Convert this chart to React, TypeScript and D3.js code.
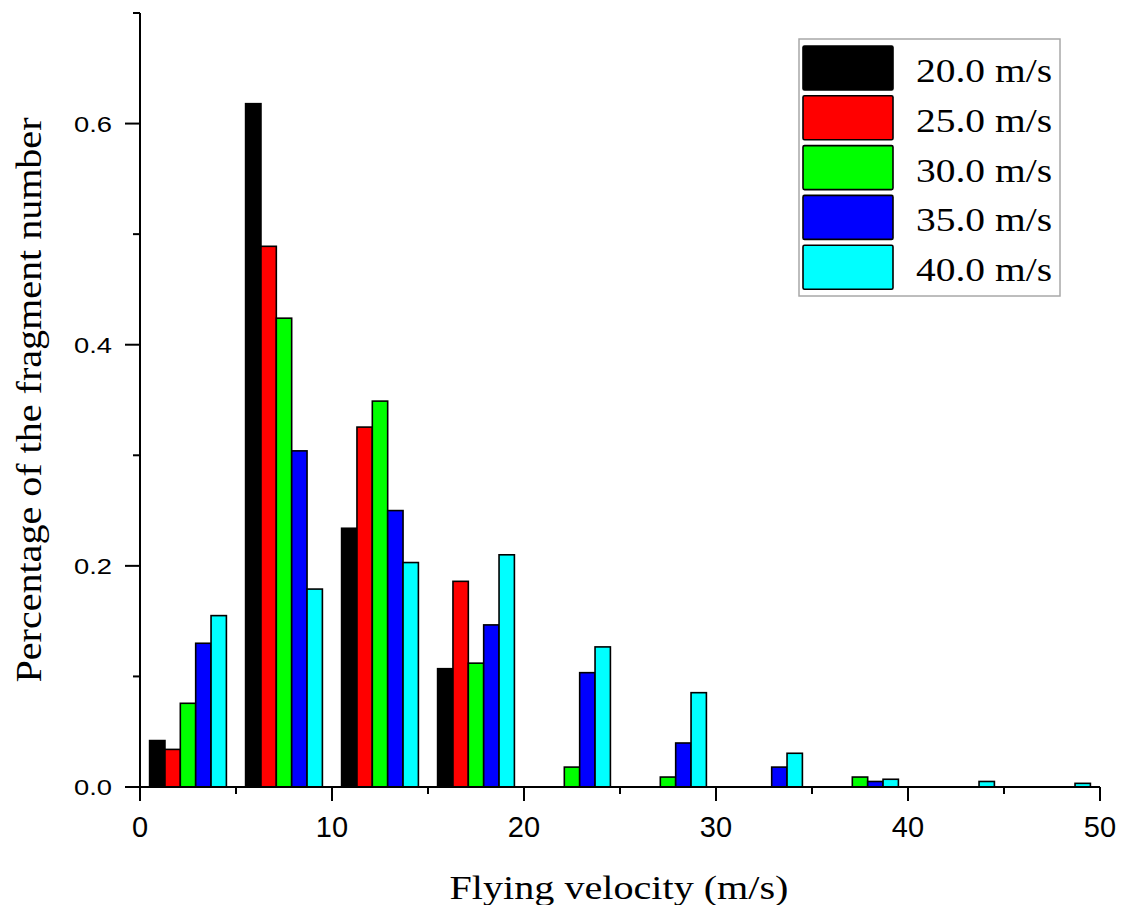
import React from "react";
import * as d3 from "d3";

// ---- data ----
const binStarts = [0, 5, 10, 15, 20, 25, 30, 35, 40, 45];
const seriesNames = ["20.0 m/s", "25.0 m/s", "30.0 m/s", "35.0 m/s", "40.0 m/s"];
const seriesColors = ["#000000", "#ff0000", "#00ff00", "#0000ff", "#00ffff"];
const v20 = [0.042, 0.618, 0.234, 0.107, 0, 0, 0, 0, 0, 0];
const v25 = [0.034, 0.489, 0.3255, 0.186, 0, 0, 0, 0, 0, 0];
const v30 = [0.0757, 0.424, 0.349, 0.112, 0.018, 0.009, 0, 0.009, 0, 0];
const v35 = [0.13, 0.304, 0.25, 0.1466, 0.1034, 0.0398, 0.018, 0.005, 0, 0];
const v40 = [0.155, 0.179, 0.203, 0.21, 0.1267, 0.0853, 0.0305, 0.007, 0.005, 0.0033];
const seriesValues = [v20, v25, v30, v35, v40];
const xMajorTicks = [0, 10, 20, 30, 40, 50];
const xMinorTicks = [5, 15, 25, 35, 45];
const xTickLabels = ["0", "10", "20", "30", "40", "50"];
const yMajorTicks = [0, 0.2, 0.4, 0.6];
const yMinorTicks = [0.1, 0.3, 0.5, 0.7];
const yTickLabels = ["0.0", "0.2", "0.4", "0.6"];
const xTitle = "Flying velocity (m/s)";
const yTitle = "Percentage of the fragment number";

const W = 1130;
const H = 905;
const left = 140;
const right = 1100;
const top = 13;
const bottom = 787;
const barOffset = 0.5;
const barWidth = 0.8;

export default function App() {
  const x = d3.scaleLinear().domain([0, 50]).range([left, right]);
  const y = d3.scaleLinear().domain([0, 0.7]).range([bottom, top]);
  const serif = "'Liberation Serif', 'Times New Roman', serif";
  const sans = "'Liberation Sans', Arial, sans-serif";

  const bars: React.ReactNode[] = [];
  seriesValues.forEach((vals, si) => {
    vals.forEach((v, bi) => {
      if (v <= 0) return;
      const x0 = x(binStarts[bi] + barOffset + si * barWidth);
      const x1 = x(binStarts[bi] + barOffset + (si + 1) * barWidth);
      bars.push(
        <rect
          key={`b-${si}-${bi}`}
          x={x0}
          y={y(v)}
          width={x1 - x0}
          height={y(0) - y(v)}
          fill={seriesColors[si]}
          stroke="#000"
          strokeWidth={1.6}
        />
      );
    });
  });

  const legX = 799;
  const legY = 39;
  const rowH = 49.8;

  return (
    <svg
      width={W}
      height={H}
      viewBox={`0 0 ${W} ${H}`}
      style={{ position: "absolute", left: 0, top: 0, background: "#fff" }}
    >
      <rect x={0} y={0} width={W} height={H} fill="#fff" />
      {bars}
      {/* axes */}
      <line x1={left} y1={bottom} x2={right} y2={bottom} stroke="#000" strokeWidth={2} />
      <line x1={left} y1={top} x2={left} y2={bottom} stroke="#000" strokeWidth={2} />
      {xMajorTicks.map((t) => (
        <line key={`xM${t}`} x1={x(t)} x2={x(t)} y1={bottom} y2={bottom + 14} stroke="#000" strokeWidth={2} />
      ))}
      {xMinorTicks.map((t) => (
        <line key={`xm${t}`} x1={x(t)} x2={x(t)} y1={bottom} y2={bottom + 7} stroke="#000" strokeWidth={2} />
      ))}
      {yMajorTicks.map((t) => (
        <line key={`yM${t}`} x1={left - 15} x2={left} y1={y(t)} y2={y(t)} stroke="#000" strokeWidth={2} />
      ))}
      {yMinorTicks.map((t) => (
        <line key={`ym${t}`} x1={left - 7} x2={left} y1={y(t)} y2={y(t)} stroke="#000" strokeWidth={2} />
      ))}
      {xMajorTicks.map((t, i) => (
        <text key={`xl${t}`} x={x(t)} y={837} textAnchor="middle" fontFamily={sans} fontSize={29} fill="#000">
          {xTickLabels[i]}
        </text>
      ))}
      {yMajorTicks.map((t, i) => (
        <text
          key={`yl${t}`}
          x={112}
          y={y(t) + 8}
          textAnchor="end"
          fontFamily={sans}
          fontSize={22.5}
          textLength={38}
          lengthAdjust="spacingAndGlyphs"
          fill="#000"
        >
          {yTickLabels[i]}
        </text>
      ))}
      {/* axis titles */}
      <text
        x={(left + right) / 2 - 1}
        y={899}
        textAnchor="middle"
        fontFamily={serif}
        fontSize={33}
        textLength={339}
        lengthAdjust="spacingAndGlyphs"
        fill="#000"
      >
        {xTitle}
      </text>
      <text
        transform={`translate(41, 400) rotate(-90)`}
        textAnchor="middle"
        fontFamily={serif}
        fontSize={35}
        textLength={565}
        lengthAdjust="spacingAndGlyphs"
        fill="#000"
      >
        {yTitle}
      </text>
      {/* legend */}
      <rect x={legX} y={legY} width={261} height={257} fill="#fff" stroke="#a8a8a8" strokeWidth={1.5} />
      {seriesNames.map((name, i) => {
        const ry = legY + 7 + i * rowH;
        return (
          <g key={`lg${i}`}>
            <rect x={legX + 4} y={ry} width={90} height={44} fill={seriesColors[i]} stroke="#000" strokeWidth={1.6} rx={1.5} />
            <text
              x={legX + 117}
              y={ry + 36}
              fontFamily={serif}
              fontSize={33}
              textLength={136}
              lengthAdjust="spacingAndGlyphs"
              fill="#000"
            >
              {name}
            </text>
          </g>
        );
      })}
    </svg>
  );
}
